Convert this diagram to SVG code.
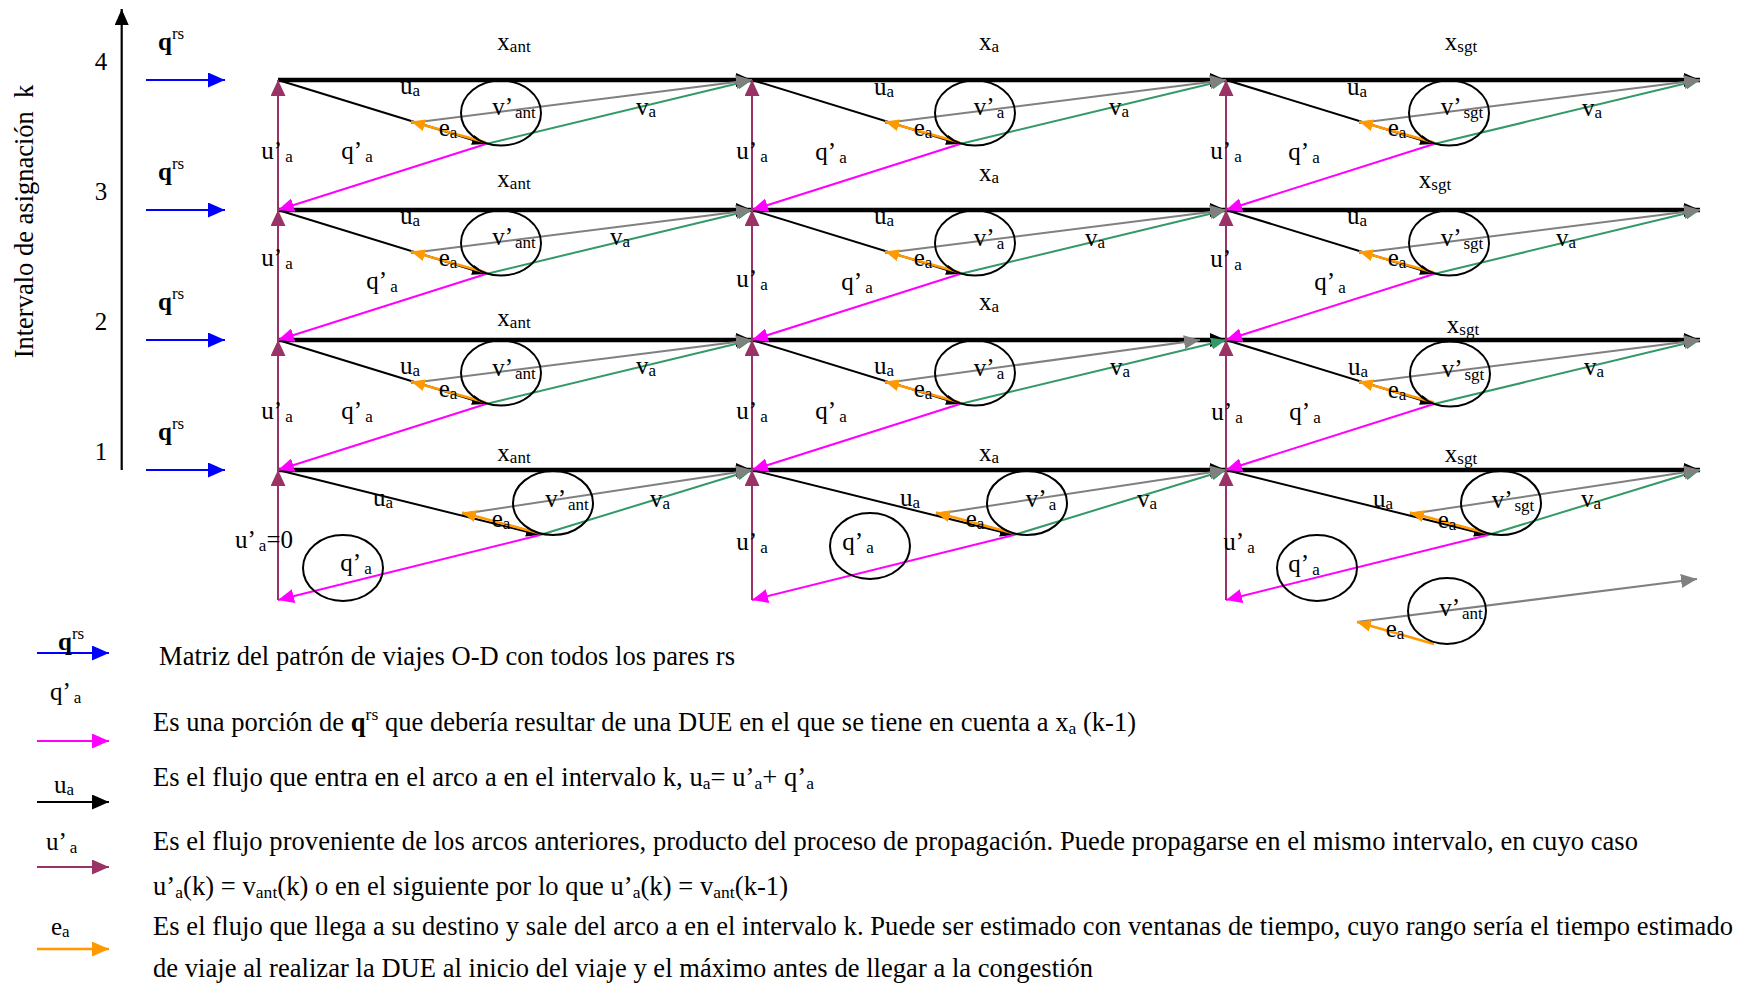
<svg xmlns="http://www.w3.org/2000/svg" width="1746" height="986" viewBox="0 0 1746 986">
<style>
.t{font-family:"Liberation Serif","Times New Roman",serif;font-size:25px;fill:#000}
.c{text-anchor:middle}
.s{font-size:17px}
.lg{font-size:26.5px}
.ls{font-size:17.5px}
.b{font-weight:bold}
.thick{stroke:#000;stroke-width:4.5;fill:none}
.ua{stroke:#000;stroke-width:2;fill:none}
.gr{stroke:#808080;stroke-width:2;fill:none}
.gn{stroke:#339966;stroke-width:2;fill:none}
.mg{stroke:#ff00ff;stroke-width:2;fill:none}
.or{stroke:#ff9900;stroke-width:2.5;fill:none}
.mr{stroke:#993366;stroke-width:2;fill:none}
.bl{stroke:#0000ff;stroke-width:2;fill:none}
.ax{stroke:#000;stroke-width:2.2;fill:none}
.el{fill:none;stroke:#000;stroke-width:2}
</style>
<defs>
<marker id="mBlk" markerUnits="userSpaceOnUse" markerWidth="16" markerHeight="14" refX="16" refY="7" orient="auto"><path d="M0,0 L16,7 L0,14 z" fill="#000"/></marker>
<marker id="mGray" markerUnits="userSpaceOnUse" markerWidth="16" markerHeight="14" refX="16" refY="7" orient="auto"><path d="M0,0 L16,7 L0,14 z" fill="#808080"/></marker>
<marker id="mGreen" markerUnits="userSpaceOnUse" markerWidth="15" markerHeight="12" refX="15" refY="6" orient="auto"><path d="M0,0 L15,6 L0,12 z" fill="#339966"/></marker>
<marker id="mMag" markerUnits="userSpaceOnUse" markerWidth="16" markerHeight="14" refX="16" refY="7" orient="auto"><path d="M0,0 L16,7 L0,14 z" fill="#ff00ff"/></marker>
<marker id="mMar" markerUnits="userSpaceOnUse" markerWidth="16" markerHeight="15" refX="16" refY="7.5" orient="auto"><path d="M0,0 L16,7.5 L0,15 z" fill="#993366"/></marker>
<marker id="mBlue" markerUnits="userSpaceOnUse" markerWidth="17" markerHeight="15" refX="17" refY="7.5" orient="auto"><path d="M0,0 L17,7.5 L0,15 z" fill="#0000ff"/></marker>
<marker id="mOr" markerUnits="userSpaceOnUse" markerWidth="14" markerHeight="12" refX="14" refY="6" orient="auto"><path d="M0,0 L14,6 L0,12 z" fill="#ff9900"/></marker>
<marker id="mOrL" markerUnits="userSpaceOnUse" markerWidth="17" markerHeight="15" refX="17" refY="7.5" orient="auto"><path d="M0,0 L17,7.5 L0,15 z" fill="#ff9900"/></marker>
<marker id="mUa" markerUnits="userSpaceOnUse" markerWidth="14" markerHeight="10" refX="14" refY="5" orient="auto"><path d="M0,0 L14,5 L0,10 z" fill="#000"/></marker>
<marker id="mBlkL" markerUnits="userSpaceOnUse" markerWidth="17" markerHeight="15" refX="17" refY="7.5" orient="auto"><path d="M0,0 L17,7.5 L0,15 z" fill="#000"/></marker>
<marker id="mMarL" markerUnits="userSpaceOnUse" markerWidth="17" markerHeight="15" refX="17" refY="7.5" orient="auto"><path d="M0,0 L17,7.5 L0,15 z" fill="#993366"/></marker>
<marker id="mMagL" markerUnits="userSpaceOnUse" markerWidth="17" markerHeight="15" refX="17" refY="7.5" orient="auto"><path d="M0,0 L17,7.5 L0,15 z" fill="#ff00ff"/></marker>
</defs>
<rect width="1746" height="986" fill="#fff"/>

<g id="axis">
<line class="ax" x1="121.7" y1="470" x2="121.7" y2="9" marker-end="url(#mBlk)"/>
<text class="t lg c" transform="translate(33,221.5) rotate(-90)">Intervalo de asignación&#160; k</text>
<text class="t c" x="101" y="70">4</text>
<text class="t c" x="101" y="200">3</text>
<text class="t c" x="101" y="330">2</text>
<text class="t c" x="101" y="460">1</text>
</g>

<g id="connectors">
<!-- demand inputs -->
<line class="bl" x1="146" y1="80" x2="225" y2="80" marker-end="url(#mBlue)"/>
<line class="bl" x1="146" y1="210" x2="225" y2="210" marker-end="url(#mBlue)"/>
<line class="bl" x1="146" y1="340" x2="225" y2="340" marker-end="url(#mBlue)"/>
<line class="bl" x1="146" y1="470" x2="225" y2="470" marker-end="url(#mBlue)"/>

<!-- thick arcs x -->
<line class="thick" x1="278" y1="80" x2="752" y2="80" marker-end="url(#mBlk)"/>
<line class="thick" x1="752" y1="80" x2="1226" y2="80" marker-end="url(#mBlk)"/>
<line class="thick" x1="1226" y1="80" x2="1700" y2="80" marker-end="url(#mBlk)"/>
<line class="thick" x1="278" y1="210" x2="752" y2="210" marker-end="url(#mBlk)"/>
<line class="thick" x1="752" y1="210" x2="1226" y2="210" marker-end="url(#mBlk)"/>
<line class="thick" x1="1226" y1="210" x2="1700" y2="210" marker-end="url(#mBlk)"/>
<line class="thick" x1="278" y1="340" x2="752" y2="340" marker-end="url(#mBlk)"/>
<line class="thick" x1="752" y1="340" x2="1226" y2="340" marker-end="url(#mBlk)"/>
<line class="thick" x1="1226" y1="340" x2="1700" y2="340" marker-end="url(#mBlk)"/>
<line class="thick" x1="278" y1="470" x2="752" y2="470" marker-end="url(#mBlk)"/>
<line class="thick" x1="752" y1="470" x2="1226" y2="470" marker-end="url(#mBlk)"/>
<line class="thick" x1="1226" y1="470" x2="1700" y2="470" marker-end="url(#mBlk)"/>

<!-- green v_a -->
<line class="gn" x1="486" y1="144" x2="752" y2="80" marker-end="url(#mGreen)"/>
<line class="gn" x1="960" y1="144" x2="1226" y2="80" marker-end="url(#mGreen)"/>
<line class="gn" x1="1434" y1="144" x2="1700" y2="80" marker-end="url(#mGreen)"/>
<line class="gn" x1="486" y1="274" x2="752" y2="210" marker-end="url(#mGreen)"/>
<line class="gn" x1="960" y1="274" x2="1226" y2="210" marker-end="url(#mGreen)"/>
<line class="gn" x1="1434" y1="274" x2="1700" y2="210" marker-end="url(#mGreen)"/>
<line class="gn" x1="486" y1="404" x2="752" y2="340" marker-end="url(#mGreen)"/>
<line class="gn" x1="960" y1="404" x2="1226" y2="340" marker-end="url(#mGreen)"/>
<line class="gn" x1="1434" y1="404" x2="1700" y2="340" marker-end="url(#mGreen)"/>
<line class="gn" x1="540" y1="535" x2="752" y2="470" marker-end="url(#mGreen)"/>
<line class="gn" x1="1014" y1="535" x2="1226" y2="470" marker-end="url(#mGreen)"/>
<line class="gn" x1="1488" y1="535" x2="1700" y2="470" marker-end="url(#mGreen)"/>

<!-- gray v' -->
<line class="gr" x1="411" y1="123" x2="752" y2="80" marker-end="url(#mGray)"/>
<line class="gr" x1="885" y1="123" x2="1226" y2="80" marker-end="url(#mGray)"/>
<line class="gr" x1="1359" y1="123" x2="1700" y2="80" marker-end="url(#mGray)"/>
<line class="gr" x1="411" y1="253" x2="752" y2="210" marker-end="url(#mGray)"/>
<line class="gr" x1="885" y1="253" x2="1226" y2="210" marker-end="url(#mGray)"/>
<line class="gr" x1="1359" y1="253" x2="1700" y2="210" marker-end="url(#mGray)"/>
<line class="gr" x1="411" y1="383" x2="752" y2="340" marker-end="url(#mGray)"/>
<line class="gr" x1="885" y1="383" x2="1200" y2="340" marker-end="url(#mGray)"/>
<line class="gr" x1="1359" y1="383" x2="1700" y2="340" marker-end="url(#mGray)"/>
<line class="gr" x1="462" y1="514" x2="752" y2="470" marker-end="url(#mGray)"/>
<line class="gr" x1="936" y1="514" x2="1226" y2="470" marker-end="url(#mGray)"/>
<line class="gr" x1="1410" y1="514" x2="1700" y2="470" marker-end="url(#mGray)"/>
<line class="gr" x1="1357" y1="622" x2="1697" y2="579" marker-end="url(#mGray)"/>

<!-- black u_a -->
<line class="ua" x1="278" y1="80" x2="486" y2="144" marker-end="url(#mUa)"/>
<line class="ua" x1="752" y1="80" x2="960" y2="144" marker-end="url(#mUa)"/>
<line class="ua" x1="1226" y1="80" x2="1434" y2="144" marker-end="url(#mUa)"/>
<line class="ua" x1="278" y1="210" x2="486" y2="274" marker-end="url(#mUa)"/>
<line class="ua" x1="752" y1="210" x2="960" y2="274" marker-end="url(#mUa)"/>
<line class="ua" x1="1226" y1="210" x2="1434" y2="274" marker-end="url(#mUa)"/>
<line class="ua" x1="278" y1="340" x2="486" y2="404" marker-end="url(#mUa)"/>
<line class="ua" x1="752" y1="340" x2="960" y2="404" marker-end="url(#mUa)"/>
<line class="ua" x1="1226" y1="340" x2="1434" y2="404" marker-end="url(#mUa)"/>
<line class="ua" x1="278" y1="470" x2="540" y2="535" marker-end="url(#mUa)"/>
<line class="ua" x1="752" y1="470" x2="1014" y2="535" marker-end="url(#mUa)"/>
<line class="ua" x1="1226" y1="470" x2="1488" y2="535" marker-end="url(#mUa)"/>

<!-- orange e_a -->
<line class="or" x1="486" y1="142.5" x2="411" y2="121.5" marker-end="url(#mOr)"/>
<line class="or" x1="960" y1="142.5" x2="885" y2="121.5" marker-end="url(#mOr)"/>
<line class="or" x1="1434" y1="142.5" x2="1359" y2="121.5" marker-end="url(#mOr)"/>
<line class="or" x1="486" y1="272.5" x2="411" y2="251.5" marker-end="url(#mOr)"/>
<line class="or" x1="960" y1="272.5" x2="885" y2="251.5" marker-end="url(#mOr)"/>
<line class="or" x1="1434" y1="272.5" x2="1359" y2="251.5" marker-end="url(#mOr)"/>
<line class="or" x1="486" y1="402.5" x2="411" y2="381.5" marker-end="url(#mOr)"/>
<line class="or" x1="960" y1="402.5" x2="885" y2="381.5" marker-end="url(#mOr)"/>
<line class="or" x1="1434" y1="402.5" x2="1359" y2="381.5" marker-end="url(#mOr)"/>
<line class="or" x1="540" y1="533.5" x2="462" y2="512.5" marker-end="url(#mOr)"/>
<line class="or" x1="1014" y1="533.5" x2="936" y2="512.5" marker-end="url(#mOr)"/>
<line class="or" x1="1488" y1="533.5" x2="1410" y2="512.5" marker-end="url(#mOr)"/>
<line class="or" x1="1434" y1="644" x2="1357" y2="622" marker-end="url(#mOr)"/>

<!-- magenta q'_a -->
<line class="mg" x1="486" y1="144" x2="278" y2="210" marker-end="url(#mMag)"/>
<line class="mg" x1="960" y1="144" x2="752" y2="210" marker-end="url(#mMag)"/>
<line class="mg" x1="1434" y1="144" x2="1226" y2="210" marker-end="url(#mMag)"/>
<line class="mg" x1="486" y1="274" x2="278" y2="340" marker-end="url(#mMag)"/>
<line class="mg" x1="960" y1="274" x2="752" y2="340" marker-end="url(#mMag)"/>
<line class="mg" x1="1434" y1="274" x2="1226" y2="340" marker-end="url(#mMag)"/>
<line class="mg" x1="486" y1="404" x2="278" y2="470" marker-end="url(#mMag)"/>
<line class="mg" x1="960" y1="404" x2="752" y2="470" marker-end="url(#mMag)"/>
<line class="mg" x1="1434" y1="404" x2="1226" y2="470" marker-end="url(#mMag)"/>
<line class="mg" x1="540" y1="535" x2="278" y2="600" marker-end="url(#mMag)"/>
<line class="mg" x1="1014" y1="535" x2="752" y2="600" marker-end="url(#mMag)"/>
<line class="mg" x1="1488" y1="535" x2="1226" y2="600" marker-end="url(#mMag)"/>

<!-- maroon u'_a -->
<line class="mr" x1="278" y1="600" x2="278" y2="470" marker-end="url(#mMar)"/>
<line class="mr" x1="278" y1="470" x2="278" y2="340" marker-end="url(#mMar)"/>
<line class="mr" x1="278" y1="340" x2="278" y2="210" marker-end="url(#mMar)"/>
<line class="mr" x1="278" y1="210" x2="278" y2="80" marker-end="url(#mMar)"/>
<line class="mr" x1="752" y1="600" x2="752" y2="470" marker-end="url(#mMar)"/>
<line class="mr" x1="752" y1="470" x2="752" y2="340" marker-end="url(#mMar)"/>
<line class="mr" x1="752" y1="340" x2="752" y2="210" marker-end="url(#mMar)"/>
<line class="mr" x1="752" y1="210" x2="752" y2="80" marker-end="url(#mMar)"/>
<line class="mr" x1="1226" y1="600" x2="1226" y2="470" marker-end="url(#mMar)"/>
<line class="mr" x1="1226" y1="470" x2="1226" y2="340" marker-end="url(#mMar)"/>
<line class="mr" x1="1226" y1="340" x2="1226" y2="210" marker-end="url(#mMar)"/>
<line class="mr" x1="1226" y1="210" x2="1226" y2="80" marker-end="url(#mMar)"/>
</g>

<g id="qrs-labels">
<text class="t" x="158" y="50"><tspan class="b">q</tspan><tspan class="s" dy="-11">rs</tspan></text>
<text class="t" x="158" y="180"><tspan class="b">q</tspan><tspan class="s" dy="-11">rs</tspan></text>
<text class="t" x="158" y="310"><tspan class="b">q</tspan><tspan class="s" dy="-11">rs</tspan></text>
<text class="t" x="158" y="440"><tspan class="b">q</tspan><tspan class="s" dy="-11">rs</tspan></text>
</g>

<!-- column 1 (ant) -->
<g id="cell-k4-ant">
<ellipse class="el" cx="501" cy="113" rx="40" ry="32.5"/>
<text class="t c" x="514" y="50">x<tspan class="s" dy="2">ant</tspan></text>
<text class="t c" x="410" y="94">u<tspan class="s" dy="2">a</tspan></text>
<text class="t c" x="514" y="115">v’<tspan class="s" dx="2" dy="3">ant</tspan></text>
<text class="t c" x="448" y="136">e<tspan class="s" dy="2">a</tspan></text>
<text class="t c" x="646" y="115">v<tspan class="s" dy="2">a</tspan></text>
<text class="t c" x="277" y="159">u’<tspan class="s" dx="3" dy="3">a</tspan></text>
<text class="t c" x="357" y="159">q’<tspan class="s" dx="3" dy="3">a</tspan></text>
</g>
<g id="cell-k3-ant">
<ellipse class="el" cx="501" cy="243" rx="40" ry="32.5"/>
<text class="t c" x="514" y="187">x<tspan class="s" dy="2">ant</tspan></text>
<text class="t c" x="410" y="224">u<tspan class="s" dy="2">a</tspan></text>
<text class="t c" x="514" y="245">v’<tspan class="s" dx="2" dy="3">ant</tspan></text>
<text class="t c" x="448" y="266">e<tspan class="s" dy="2">a</tspan></text>
<text class="t c" x="620" y="245">v<tspan class="s" dy="2">a</tspan></text>
<text class="t c" x="277" y="266">u’<tspan class="s" dx="3" dy="3">a</tspan></text>
<text class="t c" x="382" y="289">q’<tspan class="s" dx="3" dy="3">a</tspan></text>
</g>
<g id="cell-k2-ant">
<ellipse class="el" cx="501" cy="373" rx="40" ry="32.5"/>
<text class="t c" x="514" y="326">x<tspan class="s" dy="2">ant</tspan></text>
<text class="t c" x="410" y="374">u<tspan class="s" dy="2">a</tspan></text>
<text class="t c" x="514" y="376">v’<tspan class="s" dx="2" dy="3">ant</tspan></text>
<text class="t c" x="448" y="397">e<tspan class="s" dy="2">a</tspan></text>
<text class="t c" x="646" y="374">v<tspan class="s" dy="2">a</tspan></text>
<text class="t c" x="277" y="419">u’<tspan class="s" dx="3" dy="3">a</tspan></text>
<text class="t c" x="357" y="419">q’<tspan class="s" dx="3" dy="3">a</tspan></text>
</g>
<g id="cell-k1-ant">
<ellipse class="el" cx="553" cy="503" rx="40" ry="32"/>
<ellipse class="el" cx="343" cy="568" rx="40" ry="33"/>
<text class="t c" x="514" y="461">x<tspan class="s" dy="2">ant</tspan></text>
<text class="t c" x="383" y="506">u<tspan class="s" dy="2">a</tspan></text>
<text class="t c" x="567" y="507">v’<tspan class="s" dx="2" dy="3">ant</tspan></text>
<text class="t c" x="501" y="527">e<tspan class="s" dy="2">a</tspan></text>
<text class="t c" x="660" y="507">v<tspan class="s" dy="2">a</tspan></text>
<text class="t c" x="264" y="548">u’<tspan class="s" dx="3" dy="3">a</tspan><tspan dy="-3">=0</tspan></text>
<text class="t c" x="356" y="571">q’<tspan class="s" dx="3" dy="3">a</tspan></text>
</g>

<!-- column 2 (a) -->
<g id="cell-k4-a">
<ellipse class="el" cx="975" cy="113" rx="40" ry="32.5"/>
<text class="t c" x="989" y="50">x<tspan class="s" dy="2">a</tspan></text>
<text class="t c" x="884" y="95">u<tspan class="s" dy="2">a</tspan></text>
<text class="t c" x="989" y="115">v’<tspan class="s" dx="2" dy="3">a</tspan></text>
<text class="t c" x="923" y="136">e<tspan class="s" dy="2">a</tspan></text>
<text class="t c" x="1119" y="115">v<tspan class="s" dy="2">a</tspan></text>
<text class="t c" x="752" y="159">u’<tspan class="s" dx="3" dy="3">a</tspan></text>
<text class="t c" x="831" y="160">q’<tspan class="s" dx="3" dy="3">a</tspan></text>
</g>
<g id="cell-k3-a">
<ellipse class="el" cx="975" cy="243" rx="40" ry="32.5"/>
<text class="t c" x="989" y="181">x<tspan class="s" dy="2">a</tspan></text>
<text class="t c" x="884" y="224">u<tspan class="s" dy="2">a</tspan></text>
<text class="t c" x="989" y="246">v’<tspan class="s" dx="2" dy="3">a</tspan></text>
<text class="t c" x="923" y="266">e<tspan class="s" dy="2">a</tspan></text>
<text class="t c" x="1095" y="246">v<tspan class="s" dy="2">a</tspan></text>
<text class="t c" x="752" y="287">u’<tspan class="s" dx="3" dy="3">a</tspan></text>
<text class="t c" x="857" y="290">q’<tspan class="s" dx="3" dy="3">a</tspan></text>
</g>
<g id="cell-k2-a">
<ellipse class="el" cx="975" cy="373" rx="40" ry="32.5"/>
<text class="t c" x="989" y="310">x<tspan class="s" dy="2">a</tspan></text>
<text class="t c" x="884" y="374">u<tspan class="s" dy="2">a</tspan></text>
<text class="t c" x="989" y="376">v’<tspan class="s" dx="2" dy="3">a</tspan></text>
<text class="t c" x="923" y="397">e<tspan class="s" dy="2">a</tspan></text>
<text class="t c" x="1120" y="375">v<tspan class="s" dy="2">a</tspan></text>
<text class="t c" x="752" y="419">u’<tspan class="s" dx="3" dy="3">a</tspan></text>
<text class="t c" x="831" y="419">q’<tspan class="s" dx="3" dy="3">a</tspan></text>
</g>
<g id="cell-k1-a">
<ellipse class="el" cx="1027" cy="503" rx="40" ry="32"/>
<ellipse class="el" cx="870" cy="546" rx="40" ry="33"/>
<text class="t c" x="989" y="461">x<tspan class="s" dy="2">a</tspan></text>
<text class="t c" x="910" y="506">u<tspan class="s" dy="2">a</tspan></text>
<text class="t c" x="1041" y="507">v’<tspan class="s" dx="2" dy="3">a</tspan></text>
<text class="t c" x="975" y="527">e<tspan class="s" dy="2">a</tspan></text>
<text class="t c" x="1147" y="507">v<tspan class="s" dy="2">a</tspan></text>
<text class="t c" x="752" y="550">u’<tspan class="s" dx="3" dy="3">a</tspan></text>
<text class="t c" x="858" y="550">q’<tspan class="s" dx="3" dy="3">a</tspan></text>
</g>

<!-- column 3 (sgt) -->
<g id="cell-k4-sgt">
<ellipse class="el" cx="1449" cy="113" rx="40" ry="32.5"/>
<text class="t c" x="1461" y="50">x<tspan class="s" dy="2">sgt</tspan></text>
<text class="t c" x="1357" y="95">u<tspan class="s" dy="2">a</tspan></text>
<text class="t c" x="1462" y="115">v’<tspan class="s" dx="2" dy="3">sgt</tspan></text>
<text class="t c" x="1397" y="136">e<tspan class="s" dy="2">a</tspan></text>
<text class="t c" x="1592" y="116">v<tspan class="s" dy="2">a</tspan></text>
<text class="t c" x="1226" y="159">u’<tspan class="s" dx="3" dy="3">a</tspan></text>
<text class="t c" x="1304" y="160">q’<tspan class="s" dx="3" dy="3">a</tspan></text>
</g>
<g id="cell-k3-sgt">
<ellipse class="el" cx="1449" cy="243" rx="40" ry="32.5"/>
<text class="t c" x="1435" y="188">x<tspan class="s" dy="2">sgt</tspan></text>
<text class="t c" x="1357" y="224">u<tspan class="s" dy="2">a</tspan></text>
<text class="t c" x="1462" y="246">v’<tspan class="s" dx="2" dy="3">sgt</tspan></text>
<text class="t c" x="1397" y="266">e<tspan class="s" dy="2">a</tspan></text>
<text class="t c" x="1566" y="246">v<tspan class="s" dy="2">a</tspan></text>
<text class="t c" x="1226" y="267">u’<tspan class="s" dx="3" dy="3">a</tspan></text>
<text class="t c" x="1330" y="290">q’<tspan class="s" dx="3" dy="3">a</tspan></text>
</g>
<g id="cell-k2-sgt">
<ellipse class="el" cx="1450" cy="374" rx="40" ry="32.5"/>
<text class="t c" x="1463" y="333">x<tspan class="s" dy="2">sgt</tspan></text>
<text class="t c" x="1358" y="375">u<tspan class="s" dy="2">a</tspan></text>
<text class="t c" x="1463" y="377">v’<tspan class="s" dx="2" dy="3">sgt</tspan></text>
<text class="t c" x="1397" y="398">e<tspan class="s" dy="2">a</tspan></text>
<text class="t c" x="1594" y="375">v<tspan class="s" dy="2">a</tspan></text>
<text class="t c" x="1227" y="420">u’<tspan class="s" dx="3" dy="3">a</tspan></text>
<text class="t c" x="1305" y="420">q’<tspan class="s" dx="3" dy="3">a</tspan></text>
</g>
<g id="cell-k1-sgt">
<ellipse class="el" cx="1501" cy="503" rx="40" ry="32"/>
<ellipse class="el" cx="1317" cy="568" rx="40" ry="33"/>
<text class="t c" x="1461" y="462">x<tspan class="s" dy="2">sgt</tspan></text>
<text class="t c" x="1383" y="507">u<tspan class="s" dy="2">a</tspan></text>
<text class="t c" x="1513" y="508">v’<tspan class="s" dx="2" dy="3">sgt</tspan></text>
<text class="t c" x="1447" y="528">e<tspan class="s" dy="2">a</tspan></text>
<text class="t c" x="1591" y="507">v<tspan class="s" dy="2">a</tspan></text>
<text class="t c" x="1239" y="550">u’<tspan class="s" dx="3" dy="3">a</tspan></text>
<text class="t c" x="1304" y="572">q’<tspan class="s" dx="3" dy="3">a</tspan></text>
</g>
<g id="extra-vant">
<ellipse class="el" cx="1447" cy="611" rx="39" ry="33"/>
<text class="t c" x="1461" y="616">v’<tspan class="s" dx="2" dy="3">ant</tspan></text>
<text class="t c" x="1395" y="637">e<tspan class="s" dy="2">a</tspan></text>
</g>

<g id="legend">
<line class="bl" x1="37" y1="653" x2="109" y2="653" marker-end="url(#mBlue)"/>
<line class="mg" x1="37" y1="741" x2="109" y2="741" marker-end="url(#mMagL)"/>
<line class="ua" x1="37" y1="802" x2="109" y2="802" marker-end="url(#mBlkL)"/>
<line class="mr" x1="37" y1="867" x2="109" y2="867" marker-end="url(#mMarL)"/>
<line class="or" x1="37" y1="949" x2="109" y2="949" marker-end="url(#mOrL)"/>
<text class="t" x="58" y="650"><tspan class="b">q</tspan><tspan class="s" dy="-11">rs</tspan></text>
<text class="t" x="50" y="700">q’<tspan class="s" dx="3" dy="3">a</tspan></text>
<text class="t" x="54" y="793">u<tspan class="s" dy="2">a</tspan></text>
<text class="t" x="46" y="850">u’<tspan class="s" dx="3" dy="3">a</tspan></text>
<text class="t" x="51" y="935">e<tspan class="s" dy="2">a</tspan></text>

<text class="t lg" x="159" y="665" textLength="576">Matriz del patrón de viajes O-D con todos los pares rs</text>
<text class="t lg" x="153" y="731" textLength="983">Es una porción de <tspan class="b">q</tspan><tspan class="ls" dy="-11">rs</tspan><tspan dy="11"> que debería resultar de una DUE en el que se tiene en cuenta a x</tspan><tspan class="ls" dy="3">a</tspan><tspan dy="-3"> (k-1)</tspan></text>
<text class="t lg" x="153" y="786" textLength="661">Es el flujo que entra en el arco a en el intervalo k, u<tspan class="ls" dy="3">a</tspan><tspan dy="-3">= u’</tspan><tspan class="ls" dy="3">a</tspan><tspan dy="-3">+ q’</tspan><tspan class="ls" dy="3">a</tspan></text>
<text class="t lg" x="153" y="850" textLength="1485">Es el flujo proveniente de los arcos anteriores, producto del proceso de propagación. Puede propagarse en el mismo intervalo, en cuyo caso</text>
<text class="t lg" x="153" y="895" textLength="635">u’<tspan class="ls" dy="3">a</tspan><tspan dy="-3">(k) = v</tspan><tspan class="ls" dy="3">ant</tspan><tspan dy="-3">(k) o en el siguiente por lo que u’</tspan><tspan class="ls" dy="3">a</tspan><tspan dy="-3">(k) = v</tspan><tspan class="ls" dy="3">ant</tspan><tspan dy="-3">(k-1)</tspan></text>
<text class="t lg" x="153" y="935" textLength="1580">Es el flujo que llega a su destino y sale del arco a en el intervalo k. Puede ser estimado con ventanas de tiempo, cuyo rango sería el tiempo estimado</text>
<text class="t lg" x="153" y="977" textLength="940">de viaje al realizar la DUE al inicio del viaje y el máximo antes de llegar a la congestión</text>
</g>
</svg>
